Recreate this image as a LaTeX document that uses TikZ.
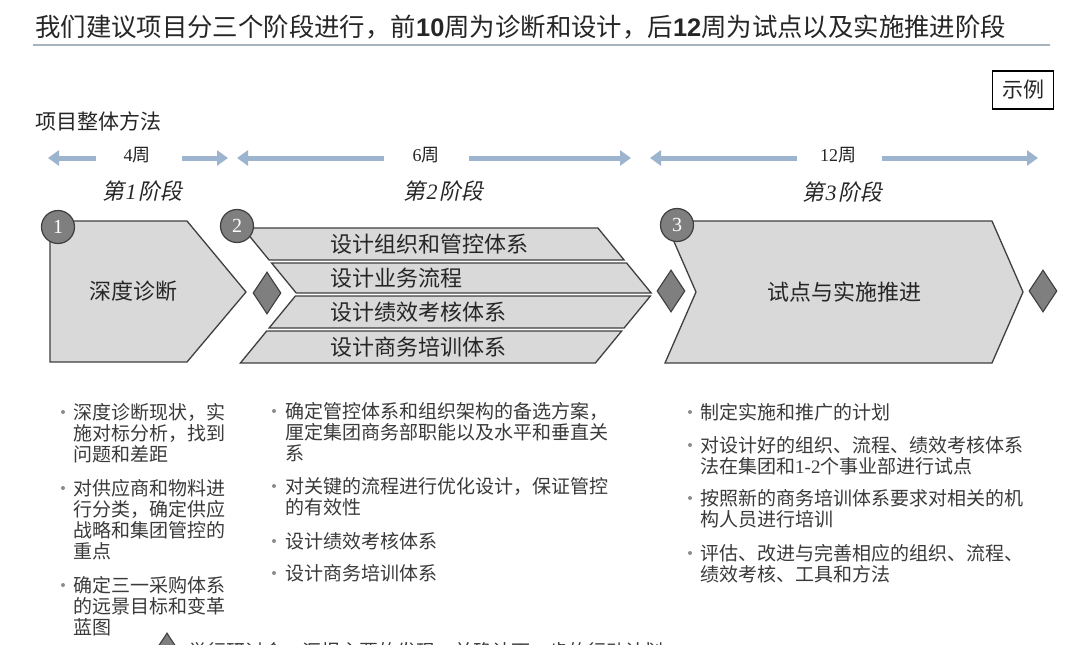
\documentclass[tikz,border=0pt]{standalone}
\usepackage{fontspec}
\setmainfont{Liberation Serif}
\setsansfont{Liberation Sans}
\newfontfamily\cjk{Noto Sans CJK SC}
\newfontfamily\cjkit{Noto Sans CJK SC}[FakeSlant=0.2]
\usetikzlibrary{arrows.meta,shapes.geometric}
\definecolor{shapefill}{HTML}{D9D9D9}
\definecolor{edge}{HTML}{3F3F3F}
\definecolor{numfill}{HTML}{7F7F7F}
\definecolor{wkblue}{HTML}{9DB4CE}
\definecolor{rulecol}{HTML}{A7B3BA}
\definecolor{txt}{HTML}{262626}
\definecolor{btxt}{HTML}{3A3A3A}
\definecolor{dotcol}{HTML}{8C8C8C}
\newcommand\ml[1]{\vtop{\baselineskip=21pt\lineskiplimit=-50pt\lineskip=0pt\let\\\cr\halign{##\hfil\cr#1\crcr}}}
\begin{document}
\begin{tikzpicture}[x=1pt,y=-1pt,
  stagebox/.style={draw=edge,fill=shapefill,line width=1.3pt,line join=miter},
  stagetxt/.style={inner sep=0,text=txt,font=\cjk\fontsize{22}{24}\selectfont},
  bartxt/.style={inner sep=0,anchor=west,text=txt,font=\cjk\fontsize{22}{24}\selectfont},
  numcirc/.style={circle,draw=edge,fill=numfill,line width=1.2pt,minimum size=33pt,inner sep=0,text=white,font=\rmfamily\fontsize{20}{22}\selectfont},
  milestone/.style={diamond,draw=edge,fill=numfill,line width=1.1pt,minimum width=28pt,minimum height=42pt,inner sep=0},
  wkarrow/.style={draw=wkblue,line width=5pt,-{Triangle[length=11pt,width=15pt]}},
  wklabel/.style={inner sep=0,text=txt,font=\fontsize{18}{20}\selectfont},
  phase/.style={inner sep=0,text=txt,font=\fontsize{22}{24}\selectfont},
  btext/.style={inner sep=0,anchor=base west,text=btxt,font=\cjk\fontsize{19}{21}\selectfont},
  bdot/.style={circle,fill=dotcol,minimum size=4pt,inner sep=0}]
\useasboundingbox (0,0) rectangle (1080,645);
\clip (0,0) rectangle (1080,645);
\fill[white] (0,0) rectangle (1080,645);

% title
\node[anchor=west,inner sep=0,text=txt,font=\cjk\fontsize{25.4}{28}\selectfont] (title) at (35,27)
  {我们建议项目分三个阶段进行，前{\sffamily\bfseries 10}周为诊断和设计，后{\sffamily\bfseries 12}周为试点以及实施推进阶段};
\coordinate (ruleL) at (33,45);
\coordinate (ruleR) at (1050,45);
\draw[rulecol,line width=2.5pt] (ruleL) -- (ruleR);

\node[draw=black,line width=1.2pt,minimum width=61pt,minimum height=38pt,inner sep=0,font=\cjk\fontsize{21}{23}\selectfont,text=txt] (example) at (1023,90) {示例};
\node[anchor=west,inner sep=0,text=txt,font=\cjk\fontsize{21}{23}\selectfont] (method) at (35,121) {项目整体方法};

% week arrows
\node[wklabel] (w4) at (137,155) {4{\cjk 周}};
\node[wklabel] (w6) at (426,155) {6{\cjk 周}};
\node[wklabel] (w12) at (838,155) {12{\cjk 周}};
\coordinate (a1s) at (96,158);  \coordinate (a1t) at (48,158);
\coordinate (a2s) at (182,158); \coordinate (a2t) at (228,158);
\coordinate (a3s) at (384,158); \coordinate (a3t) at (237,158);
\coordinate (a4s) at (469,158); \coordinate (a4t) at (631,158);
\coordinate (a5s) at (797,158); \coordinate (a5t) at (650,158);
\coordinate (a6s) at (882,158); \coordinate (a6t) at (1038,158);
\draw[wkarrow] (a1s) -- (a1t);
\draw[wkarrow] (a2s) -- (a2t);
\draw[wkarrow] (a3s) -- (a3t);
\draw[wkarrow] (a4s) -- (a4t);
\draw[wkarrow] (a5s) -- (a5t);
\draw[wkarrow] (a6s) -- (a6t);

% phase labels
\node[phase] (p1) at (142,191) {{\cjkit 第}\kern1.5pt{\itshape 1}\kern1.5pt{\cjkit 阶段}};
\node[phase] (p2) at (443,191) {{\cjkit 第}\kern1.5pt{\itshape 2}\kern1.5pt{\cjkit 阶段}};
\node[phase] (p3) at (842,192) {{\cjkit 第}\kern1.5pt{\itshape 3}\kern1.5pt{\cjkit 阶段}};

% stage 1
\draw[stagebox] (50,221) -- (187,221) -- (246,292) -- (187,362) -- (50,362) -- cycle;
\node[stagetxt] (s1) at (133,291) {深度诊断};
\node[numcirc] (n1) at (58,227) {1};

% stage 2 bars
\draw[stagebox] (242.9,228) -- (597.9,228) -- (624.1,260) -- (269.1,260) -- cycle;
\draw[stagebox] (271.6,263) -- (626.6,263) -- (651.2,293) -- (296.2,293) -- cycle;
\draw[stagebox] (295.4,296) -- (650.4,296) -- (624.1,328) -- (269.1,328) -- cycle;
\draw[stagebox] (266.7,331) -- (621.7,331) -- (595.4,363) -- (240.4,363) -- cycle;
\node[bartxt] (b1) at (330,244) {设计组织和管控体系};
\node[bartxt] (b2) at (330,278) {设计业务流程};
\node[bartxt] (b3) at (330,312) {设计绩效考核体系};
\node[bartxt] (b4) at (330,347) {设计商务培训体系};
\node[numcirc] (n2) at (237,226) {2};

% stage 3
\draw[stagebox] (665,221) -- (992,221) -- (1023,292) -- (992,363) -- (665,363) -- (696,292) -- cycle;
\node[stagetxt] (s3) at (844,292) {试点与实施推进};
\node[numcirc] (n3) at (677,225) {3};

% milestones
\node[milestone] (m1) at (267,293) {};
\node[milestone] (m2) at (671,291) {};
\node[milestone] (m3) at (1043,291) {};

% column 1
\node[bdot] (d11) at (63,412) {};
\node[btext] (t11) at (73,419) {\ml{深度诊断现状，实\\施对标分析，找到\\问题和差距}};
\node[bdot] (d12) at (63,488) {};
\node[btext] (t12) at (73,495) {\ml{对供应商和物料进\\行分类，确定供应\\战略和集团管控的\\重点}};
\node[bdot] (d13) at (63,585) {};
\node[btext] (t13) at (73,592) {\ml{确定三一采购体系\\的远景目标和变革\\蓝图}};

% column 2
\node[bdot] (d21) at (274,411) {};
\node[btext] (t21) at (285,418) {\ml{确定管控体系和组织架构的备选方案，\\厘定集团商务部职能以及水平和垂直关\\系}};
\node[bdot] (d22) at (274,486) {};
\node[btext] (t22) at (285,493) {\ml{对关键的流程进行优化设计，保证管控\\的有效性}};
\node[bdot] (d23) at (274,541) {};
\node[btext] (t23) at (285,548) {设计绩效考核体系};
\node[bdot] (d24) at (274,573) {};
\node[btext] (t24) at (285,580) {设计商务培训体系};

% column 3
\node[bdot] (d31) at (690,412) {};
\node[btext] (t31) at (700,419) {制定实施和推广的计划};
\node[bdot] (d32) at (690,445) {};
\node[btext] (t32) at (700,452) {\ml{对设计好的组织、流程、绩效考核体系\\法在集团和{\rmfamily 1-2}个事业部进行试点}};
\node[bdot] (d33) at (690,498) {};
\node[btext] (t33) at (700,505) {\ml{按照新的商务培训体系要求对相关的机\\构人员进行培训}};
\node[bdot] (d34) at (690,553) {};
\node[btext] (t34) at (700,560) {\ml{评估、改进与完善相应的组织、流程、\\绩效考核、工具和方法}};

% legend (cut by the lower edge)
\node[milestone] (lg) at (167,654) {};
\node[btext] (lgt) at (188,658) {举行研讨会，汇报主要的发现，并确认下一步的行动计划};
\end{tikzpicture}
\end{document}
